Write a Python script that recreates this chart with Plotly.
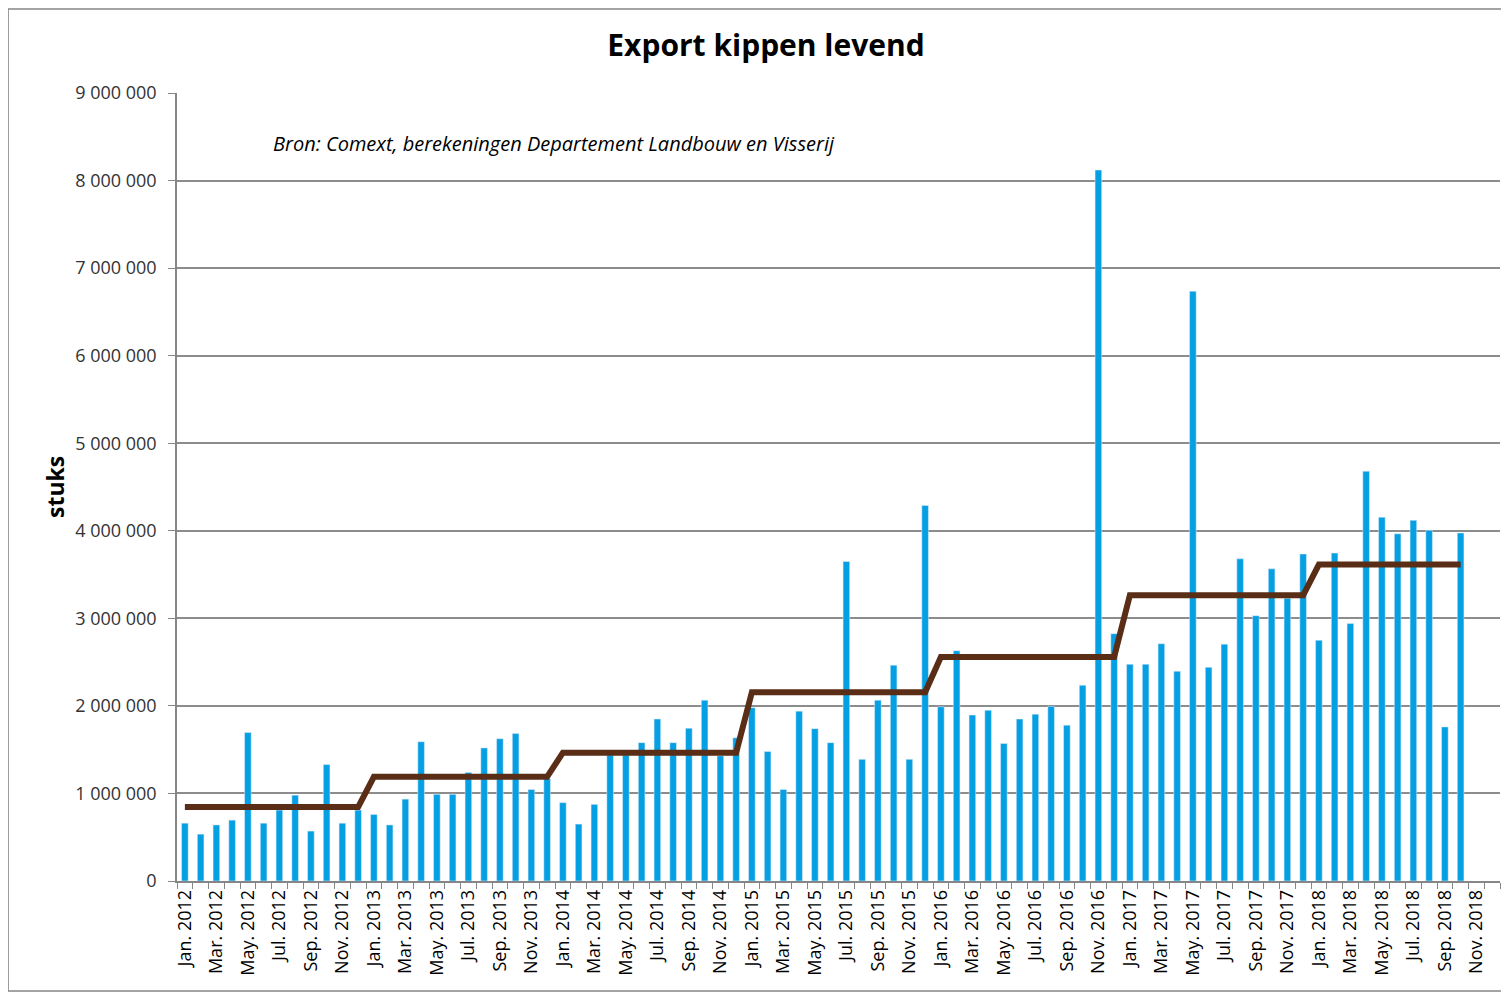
import plotly.graph_objects as go

maanden = ["Jan.", "Feb.", "Mar.", "Apr.", "May.", "Jun.",
           "Jul.", "Aug.", "Sep.", "Oct.", "Nov.", "Dec."]
jaren = [2012, 2013, 2014, 2015, 2016, 2017, 2018]
categorieen = [f"{m} {j}" for j in jaren for m in maanden]

# maandelijkse export (stuks), jan. 2012 - okt. 2018
export_2012 = [660000, 535000, 640000, 695000, 1695000, 660000, 810000, 980000, 570000, 1330000, 660000, 810000]
export_2013 = [760000, 640000, 935000, 1590000, 990000, 990000, 1240000, 1520000, 1625000, 1685000, 1045000, 1170000]
export_2014 = [895000, 650000, 875000, 1440000, 1440000, 1580000, 1850000, 1580000, 1745000, 2065000, 1430000, 1635000]
export_2015 = [1980000, 1480000, 1045000, 1940000, 1740000, 1580000, 3650000, 1390000, 2065000, 2465000, 1390000, 4290000]
export_2016 = [1990000, 2630000, 1895000, 1950000, 1570000, 1850000, 1905000, 1995000, 1780000, 2235000, 8120000, 2825000]
export_2017 = [2475000, 2475000, 2710000, 2395000, 6735000, 2440000, 2705000, 3680000, 3030000, 3565000, 3230000, 3735000]
export_2018 = [2750000, 3745000, 2940000, 4680000, 4155000, 3965000, 4120000, 4005000, 1760000, 3975000]

# jaargemiddelde (bruine lijn)
gemiddelde = [845000, 1190000, 1465000, 2155000, 2558000, 3263000, 3614000]

export = export_2012 + export_2013 + export_2014 + export_2015 + export_2016 + export_2017 + export_2018
n = len(export)
lijn = []
for i in range(n):
    lijn.append(gemiddelde[i // 12])

fig = go.Figure()
fig.add_bar(x=categorieen[:n], y=export, marker_color="#059fe4", width=0.42, name="export")
fig.add_scatter(x=categorieen[:n], y=lijn, mode="lines", name="gemiddelde",
                line=dict(color="#5a2e16", width=6))

tekst = [c if i % 2 == 0 else "" for i, c in enumerate(categorieen)]

# de pagina heeft 8px marge rond de figuur
fig.update_layout(
    width=1501, height=985,
    margin=dict(l=169, r=9, t=85, b=112),
    plot_bgcolor="white", paper_bgcolor="white",
    showlegend=False,
    separators=", ",
    font=dict(family="Open Sans, sans-serif", color="#333333"),
    title=dict(text="<b>Export kippen levend</b>", x=0.505, y=0.962, xanchor="center",
               yanchor="middle", font=dict(size=30, color="black")),
    xaxis=dict(type="category", categoryorder="array", categoryarray=categorieen,
               range=[-0.5, len(categorieen) - 0.5],
               tickmode="array", tickvals=categorieen, ticktext=tekst,
               tickson="boundaries", ticks="outside", ticklen=6, tickcolor="#868686",
               tickangle=-90, tickfont=dict(size=18, color="black"),
               showline=True, linecolor="#868686", linewidth=1.5, showgrid=False),
    yaxis=dict(range=[0, 9000000], dtick=1000000, tickformat=",d",
               ticks="outside", ticklen=7, tickcolor="#868686", ticklabelstandoff=8,
               tickfont=dict(size=18), showline=True, linecolor="#868686", linewidth=1.5,
               gridcolor="#8c8c8c", gridwidth=1.5),
    annotations=[
        dict(text="<i>Bron: Comext, berekeningen Departement Landbouw en Visserij</i>",
             xref="paper", yref="paper", x=0.071, y=0.9365, xanchor="left",
             yanchor="middle", showarrow=False, font=dict(size=20, color="black")),
        dict(text="<b>stuks</b>", xref="paper", yref="paper", x=-0.0922, y=0.5,
             xanchor="center", yanchor="middle",
             textangle=-90, showarrow=False, font=dict(size=23, color="black")),
    ],
    shapes=[dict(type="rect", xref="paper", yref="paper", x0=-0.1277, x1=1.01,
                 y0=-0.1396, y1=1.1066, line=dict(color="#868686", width=1.5))],
)

fig.write_html("out.html")
